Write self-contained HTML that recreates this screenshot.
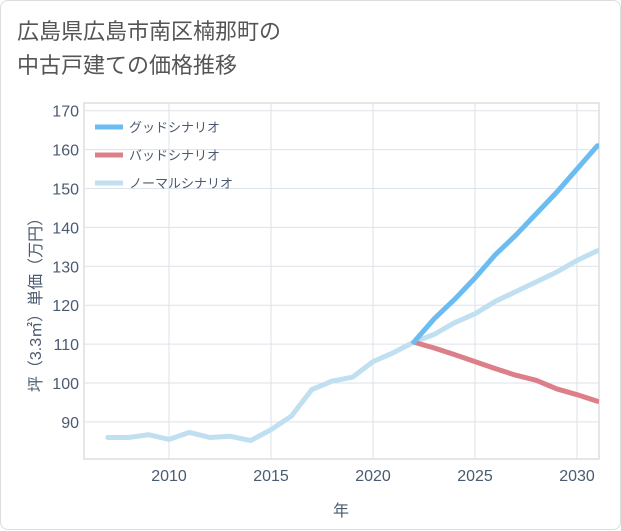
<!DOCTYPE html>
<html><head><meta charset="utf-8"><style>
body{margin:0;background:#fff;font-family:"Liberation Sans","Noto Sans CJK JP",sans-serif;}
#wrap{position:relative;width:619px;height:528px;border:1px solid #ddd;border-radius:8px;background:#fff;}
#title{position:absolute;left:16px;top:14px;font-size:22px;line-height:34px;color:#555;}
svg{position:absolute;left:0;top:0;}
</style></head><body>
<div id="wrap">
<div id="title">広島県広島市南区楠那町の<br>中古戸建ての価格推移</div>
<svg id="c" width="621" height="530"></svg>
</div>
<script>
const normalYears=[2007,2008,2009,2010,2011,2012,2013,2014,2015,2016,2017,2018,2019,2020,2021,2022,2023,2024,2025,2026,2027,2028,2029,2030,2031];
const normalVals=[86,86,86.7,85.5,87.3,86,86.3,85.2,88,91.5,98.3,100.5,101.5,105.5,107.8,110.5,112.5,115.5,117.8,121,123.5,126,128.5,131.5,134];
const futureYears=[2022,2023,2024,2025,2026,2027,2028,2029,2030,2031];
const goodVals=[110.5,116.5,121.5,127,133,138,143.5,149,155,161];
const badVals=[110.5,109,107.3,105.5,103.7,102,100.7,98.5,97,95.3];
const xTicks=[2010,2015,2020,2025,2030];
const yTicks=[90,100,110,120,130,140,150,160,170];
const legendLabels=["グッドシナリオ","バッドシナリオ","ノーマルシナリオ"];
const NS="http://www.w3.org/2000/svg";
const svg=document.getElementById('c');
const L=83,R=598,T=102,B=458;
const TXT='#4a5a70';
const x=v=>168+(v-2010)*20.4;
const y=v=>382-(v-100)*3.89;
function el(t,a,p){const e=document.createElementNS(NS,t);for(const k in a)e.setAttribute(k,a[k]);(p||svg).appendChild(e);return e;}
const frame=el('rect',{x:L,y:T,width:R-L,height:B-T,fill:'none',stroke:'#ccc'});


xTicks.forEach(t=>{
 const g=el('line',{x1:x(t),x2:x(t),y1:T,y2:B,stroke:'#dde3ea'});
 
 
 const tx=el('text',{x:x(t),y:480,'text-anchor':'middle','font-size':16,fill:TXT});tx.textContent=t;
 
 
});
yTicks.forEach(t=>{
 const g=el('line',{x1:L,x2:R,y1:y(t),y2:y(t),stroke:'#dde3ea'});
 
 
 const tx=el('text',{x:78,y:y(t)+6,'text-anchor':'end','font-size':16,fill:TXT});tx.textContent=t;
 
 
});
const xt=el('text',{x:340,y:515,'text-anchor':'middle','font-size':16,fill:TXT});xt.textContent='年';


const yt=el('text',{x:0,y:0,'text-anchor':'middle','font-size':16,fill:TXT,transform:'translate(40,300) rotate(-90)'});yt.textContent='坪（3.3㎡）単価（万円）';


function line(xs,vs,color,name){
 const d=xs.map((v,i)=>(i?'L':'M')+x(v)+','+y(vs[i])).join('');
 const p=el('path',{d:d,fill:'none',stroke:color,'stroke-width':5,'stroke-linejoin':'round','stroke-linecap':'round','clip-path':'url(#clip)'});
 
 
}
const defs=el('defs',{});const cp=el('clipPath',{id:'clip'},defs);el('rect',{x:L,y:T,width:R-L,height:B-T},cp);
line(normalYears,normalVals,'#c0dff0','normal-scenario-line');
line(futureYears,badVals,'#dd7f88','bad-scenario-line');
line(futureYears,goodVals,'#6bbcf0','good-scenario-line');
const colors=['#6bbcf0','#dd7f88','#c0dff0'];
legendLabels.forEach((s,i)=>{
 const yy=126+i*28;
 const l=el('line',{x1:94,x2:122,y1:yy,y2:yy,stroke:colors[i],'stroke-width':5});
 
 
 const t=el('text',{x:128,y:yy+5,'font-size':13,fill:TXT});t.textContent=s;
 
 
});
</script>
</body></html>
